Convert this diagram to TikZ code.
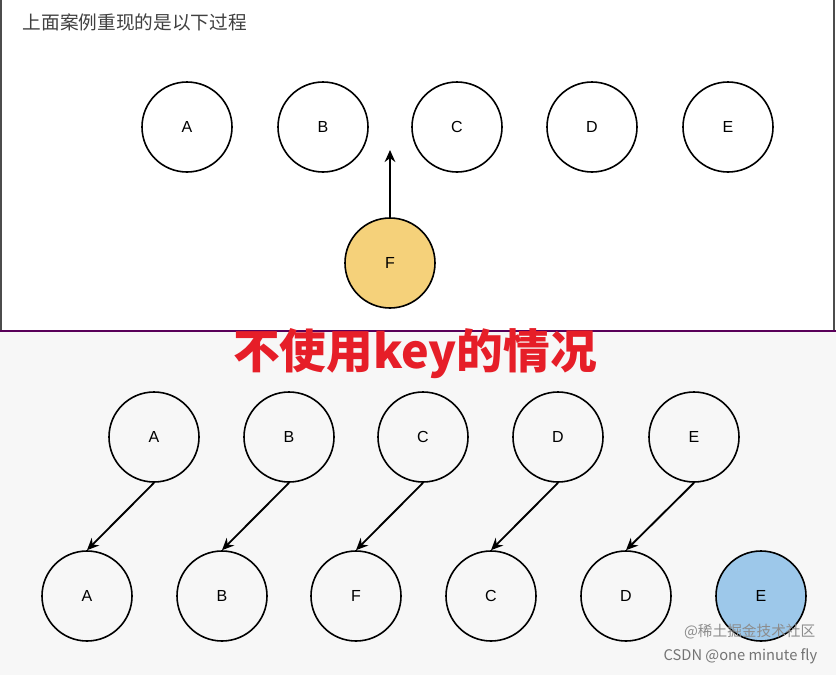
\documentclass[tikz,border=0pt]{standalone}
\usepackage{fontspec}
\usetikzlibrary{arrows.meta}
\setmainfont{Liberation Sans}
\newfontfamily\cjk{Noto Sans CJK SC}
\begin{document}
\begin{tikzpicture}[x=0.75pt,y=-0.75pt,
 circ/.style={circle,draw,line width=1.2pt,minimum size=67.5pt,inner sep=0pt,font=\fontsize{12}{12}\selectfont},
 arr/.style={-{Stealth[length=9pt,width=8pt]},line width=1.4pt}]
\useasboundingbox (0,0) rectangle (836,675);
\fill[white] (0,0) rectangle (836,331);
\fill[black!3] (0,331) rectangle (836,675);
\draw[black!70,line width=1pt] (1,0) -- (1,331) (834,0) -- (834,331);
\draw[violet!70!black,line width=1.2pt] (0,331) -- (836,331);
\node[anchor=west,text=black!75,font=\cjk\fontsize{14}{14}\selectfont] (t) at (18,22) {上面案例重现的是以下过程};
\foreach \n/\x in {A/187,B/323,C/457,D/592,E/728}{\node[circ] (t\n) at (\x,127) {\n};}
\node[circ,fill={rgb,255:red,245;green,209;blue,122}] (tF) at (390,263) {F};
\coordinate (tip) at (390,150);
\draw[arr] (tF.north) -- (tip);
\node[text={rgb,255:red,230;green,30;blue,40},font=\cjk\bfseries\fontsize{35}{35}\selectfont] (title) at (415,354) {不使用key的情况};
\foreach \n/\x in {A/154,B/289,C/423,D/558,E/694}{\node[circ] (u\n) at (\x,437) {\n};}
\foreach \n/\l/\x in {1/A/87,2/B/222,3/F/356,4/C/491,5/D/626}{\node[circ] (l\n) at (\x,596) {\l};}
\node[circ,fill={rgb,255:red,157;green,200;blue,234}] (l6) at (761,596) {E};
\foreach \u/\l in {A/1,B/2,C/3,D/4,E/5}{\draw[arr] (u\u.south) -- (l\l.north);}
\node[anchor=east,text=black!45,font=\cjk\fontsize{11}{11}\selectfont] (w1) at (820,632) {@稀土掘金技术社区};
\node[anchor=east,text=black!55,font=\cjk\fontsize{11}{11}\selectfont] (w2) at (822,656) {CSDN @one minute fly};
\end{tikzpicture}
\end{document}
